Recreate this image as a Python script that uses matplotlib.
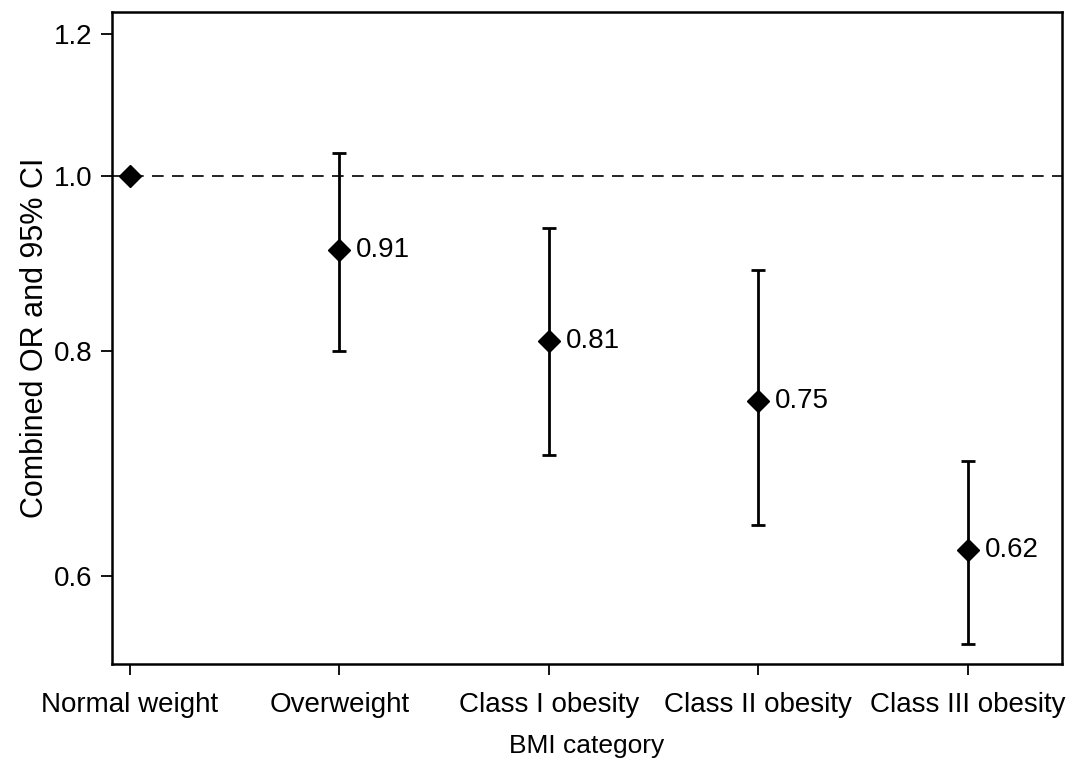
import matplotlib.pyplot as plt
from matplotlib.ticker import FixedLocator, FixedFormatter, NullLocator

plt.rcParams['font.family'] = ['Liberation Sans', 'DejaVu Sans']

# data
categories = ["Normal weight", "Overweight", "Class I obesity", "Class II obesity", "Class III obesity"]
odds_ratio = [1.00, 0.91, 0.81, 0.75, 0.62]
ci_lower = [1.00, 0.80, 0.70, 0.64, 0.55]
ci_upper = [1.00, 1.03, 0.936, 0.887, 0.695]
point_labels = ["", "0.91", "0.81", "0.75", "0.62"]
yticks = [0.6, 0.8, 1.0, 1.2]
ytick_labels = ["0.6", "0.8", "1.0", "1.2"]

fig = plt.figure(figsize=(10.71, 7.7), dpi=100)
ax = fig.add_axes([0.1046, 0.1377, 0.887, 0.8463])

x = list(range(len(categories)))
err_lo = [o - l for o, l in zip(odds_ratio, ci_lower)]
err_hi = [u - o for o, u in zip(odds_ratio, ci_upper)]

ax.axhline(1.0, color='black', linestyle=(0, (7, 5)), linewidth=1.2, zorder=1)

# the reference has no cap for the first point (no interval)
ax.errorbar(x[1:], odds_ratio[1:], yerr=[err_lo[1:], err_hi[1:]], fmt='none',
            ecolor='black', elinewidth=2, capsize=5, capthick=2, zorder=2)
ax.plot(x, odds_ratio, linestyle='none', marker='D', markersize=11,
        color='black', zorder=3)

for xi, yi, lab in zip(x, odds_ratio, point_labels):
    if lab:
        ax.annotate(lab, (xi, yi), xytext=(12, 0), textcoords='offset points',
                    va='center', ha='left', fontsize=20)

ax.set_yscale('log')
ax.set_ylim(0.536, 1.233)
ax.set_xlim(-0.086, 4.45)
ax.yaxis.set_major_locator(FixedLocator(yticks))
ax.yaxis.set_major_formatter(FixedFormatter(ytick_labels))
ax.yaxis.set_minor_locator(NullLocator())
ax.set_xticks(x)
ax.set_xticklabels(categories)

ax.tick_params(axis='both', direction='out', length=8, width=1.3, labelsize=20, pad=6)
ax.tick_params(axis='x', pad=12)
for s in ax.spines.values():
    s.set_linewidth(1.8)

ax.set_xlabel("BMI category", fontsize=19, labelpad=12)
ax.set_ylabel("Combined OR and 95% CI", fontsize=22, labelpad=3)

fig.savefig('out.png', dpi=100)
